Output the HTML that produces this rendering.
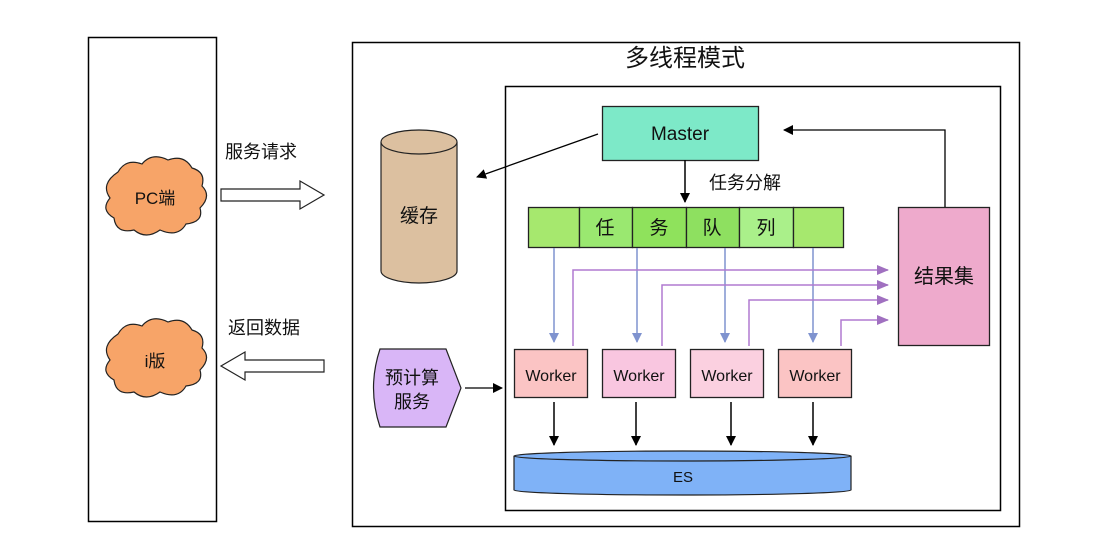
<!DOCTYPE html>
<html><head><meta charset="utf-8"><style>body{margin:0;background:#fff}svg{display:block}text{font-family:"Liberation Sans","Noto Sans CJK SC",sans-serif;fill:#111}</style></head><body>
<svg width="1098" height="542" viewBox="0 0 1098 542" xmlns="http://www.w3.org/2000/svg">
<defs>
<marker id="bk" markerWidth="10" markerHeight="10" refX="9" refY="5" orient="auto" markerUnits="userSpaceOnUse"><path d="M0,0L10,5L0,10z" fill="#000"/></marker>
<marker id="bl" markerWidth="10" markerHeight="10" refX="9" refY="5" orient="auto" markerUnits="userSpaceOnUse"><path d="M0,0L10,5L0,10z" fill="#7f93cf"/></marker>
<marker id="pu" markerWidth="12" markerHeight="10" refX="11" refY="5" orient="auto" markerUnits="userSpaceOnUse"><path d="M0,0L12,5L0,10z" fill="#a070c0"/></marker>
</defs>
<rect x="88.5" y="37.5" width="128" height="484" fill="#fff" stroke="#000" stroke-width="1.5"/>
<rect x="352.5" y="42.5" width="667" height="484" fill="#fff" stroke="#000" stroke-width="1.5"/>
<text x="685" y="66" font-size="24" text-anchor="middle">多线程模式</text>
<rect x="505.5" y="86.5" width="495" height="424" fill="#fff" stroke="#000" stroke-width="1.5"/>
<!-- clouds -->
<g fill="#f7a468" stroke="#222" stroke-width="1.2">
<path d="M118,172 q8,-14 24,-8 q10,-12 26,-4 q16,-6 24,8 q14,4 10,18 q10,10 -2,22 q4,14 -14,16 q-8,14 -26,6 q-14,10 -26,0 q-18,4 -20,-12 q-14,-8 -4,-20 q-10,-14 8,-26z"/>
<path d="M118,334 q8,-14 24,-8 q10,-12 26,-4 q16,-6 24,8 q14,4 10,18 q10,10 -2,22 q4,14 -14,16 q-8,14 -26,6 q-14,10 -26,0 q-18,4 -20,-12 q-14,-8 -4,-20 q-10,-14 8,-26z"/>
</g>
<text x="155" y="204" font-size="17" text-anchor="middle">PC端</text>
<text x="155" y="367" font-size="17" text-anchor="middle">i版</text>
<!-- hollow arrows -->
<path d="M221,189H300V181L324,195L300,209V201H221z" fill="#fff" stroke="#222" stroke-width="1.2"/>
<path d="M324,360H245V352L221,366L245,380V372H324z" fill="#fff" stroke="#222" stroke-width="1.2"/>
<text x="225" y="158" font-size="18">服务请求</text>
<text x="228" y="334" font-size="18">返回数据</text>
<!-- cache -->
<path d="M381,142V271A38,12 0 0 0 457,271V142" fill="#dcc0a0" stroke="#222" stroke-width="1.2"/>
<ellipse cx="419" cy="142" rx="38" ry="12" fill="#dcc0a0" stroke="#222" stroke-width="1.2"/>
<text x="419" y="222" font-size="19" text-anchor="middle">缓存</text>
<!-- precalc -->
<path d="M380,349H446L461,388L446,427H380Q367,388 380,349z" fill="#d9b6f7" stroke="#222" stroke-width="1.2"/>
<text x="412" y="384" font-size="18" text-anchor="middle">预计算</text>
<text x="412" y="408" font-size="18" text-anchor="middle">服务</text>
<line x1="465" y1="388" x2="502" y2="388" stroke="#000" stroke-width="1.3" marker-end="url(#bk)"/>
<!-- master -->
<rect x="602.5" y="106.5" width="156" height="54" fill="#7de9c8" stroke="#222" stroke-width="1.3"/>
<text x="680" y="140" font-size="19" text-anchor="middle">Master</text>
<line x1="598" y1="134" x2="477" y2="177" stroke="#000" stroke-width="1.3" marker-end="url(#bk)"/>
<line x1="685" y1="160" x2="685" y2="202" stroke="#000" stroke-width="1.5" marker-end="url(#bk)"/>
<text x="709" y="189" font-size="18">任务分解</text>
<!-- queue -->
<g stroke="#222" stroke-width="1.3">
<rect x="528.5" y="207.5" width="51" height="40" fill="#a6e86e"/>
<rect x="579.5" y="207.5" width="53" height="40" fill="#9ae870"/>
<rect x="632.5" y="207.5" width="54" height="40" fill="#8fe25c"/>
<rect x="686.5" y="207.5" width="53" height="40" fill="#8ee060"/>
<rect x="739.5" y="207.5" width="54" height="40" fill="#aaf08a"/>
<rect x="793.5" y="207.5" width="50" height="40" fill="#a6e86e"/>
</g>
<g font-size="19" text-anchor="middle"><text x="605" y="234">任</text><text x="659" y="234">务</text><text x="712" y="234">队</text><text x="766" y="234">列</text></g>
<!-- result -->
<rect x="898.5" y="207.5" width="91" height="138" fill="#eeaacc" stroke="#222" stroke-width="1.3"/>
<text x="944" y="283" font-size="20" text-anchor="middle">结果集</text>
<polyline points="945,207 945,130 784,130" fill="none" stroke="#000" stroke-width="1.3" marker-end="url(#bk)"/>
<!-- blue arrows -->
<g stroke="#7f93cf" stroke-width="1.5" marker-end="url(#bl)">
<line x1="554" y1="248" x2="554" y2="342"/><line x1="637" y1="248" x2="637" y2="342"/><line x1="725" y1="248" x2="725" y2="342"/><line x1="813" y1="248" x2="813" y2="342"/>
</g>
<g stroke="#b07ad0" stroke-width="1.5" fill="none" marker-end="url(#pu)">
<polyline points="573,346 573,270 888,270"/><polyline points="662,346 662,285 888,285"/><polyline points="749,346 749,300 888,300"/><polyline points="841,346 841,320 888,320"/>
</g>
<!-- workers -->
<g stroke="#222" stroke-width="1.3">
<rect x="514.5" y="349.5" width="73" height="48" fill="#fbc4c4"/>
<rect x="602.5" y="349.5" width="73" height="48" fill="#f9c6e0"/>
<rect x="690.5" y="349.5" width="73" height="48" fill="#fbd0e0"/>
<rect x="778.5" y="349.5" width="73" height="48" fill="#fbc4c4"/>
</g>
<g font-size="16" text-anchor="middle"><text x="551" y="381">Worker</text><text x="639" y="381">Worker</text><text x="727" y="381">Worker</text><text x="815" y="381">Worker</text></g>
<g stroke="#000" stroke-width="1.5" marker-end="url(#bk)">
<line x1="554" y1="402" x2="554" y2="445"/><line x1="636" y1="402" x2="636" y2="445"/><line x1="731" y1="402" x2="731" y2="445"/><line x1="813" y1="402" x2="813" y2="445"/>
</g>
<!-- ES -->
<path d="M514,456V490A168,5 0 0 0 851,490V456" fill="#7fb2f7" stroke="#222" stroke-width="1.2"/>
<ellipse cx="682.5" cy="456" rx="168.5" ry="5" fill="#7fb2f7" stroke="#222" stroke-width="1.2"/>
<text x="683" y="482" font-size="15" text-anchor="middle">ES</text>
</svg>
</body></html>
